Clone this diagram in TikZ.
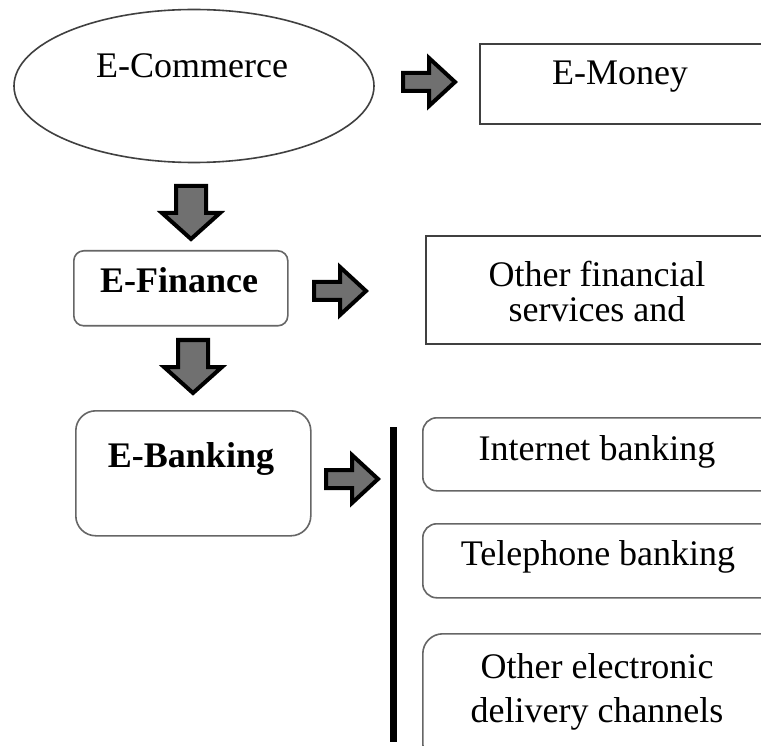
\documentclass[tikz,border=0pt]{standalone}
\usepackage{fontspec}
\setmainfont{Liberation Serif}
\usetikzlibrary{shapes.geometric}
\tikzset{
  txt/.style={font=\fontsize{36}{40}\selectfont, inner sep=0pt, anchor=base},
  btxt/.style={txt, font=\fontsize{36}{40}\selectfont\bfseries},
  sbox/.style={draw=black!75, line width=1.6pt, anchor=north west, inner sep=0pt},
  rbox/.style={draw=black!60, line width=1.6pt, anchor=north west, inner sep=0pt},
  blk/.style={fill={rgb,255:red,112;green,112;blue,112}, draw=black, line width=4pt, line join=miter},
  rarrow/.pic={\draw[blk] (-26,-9) -- (0,-9) -- (0,-24) -- (26,0) -- (0,24) -- (0,9) -- (-26,9) -- cycle;},
  darrow/.pic={\draw[blk] (-15,-27) -- (15,-27) -- (15,0) -- (29,0) -- (0,26) -- (-29,0) -- (-15,0) -- cycle;}
}
\begin{document}
\begin{tikzpicture}[x=1pt,y=-1pt]
\clip (0,0) rectangle (761,746);
\fill[white] (0,0) rectangle (761,746);
% top row
\node[ellipse, draw=black!75, line width=1.6pt, minimum width=360pt, minimum height=153pt, inner sep=0pt] (ec) at (194,86) {};
\node[txt] (ectext) at (192,78) {E-Commerce};
\node[sbox, minimum width=330pt, minimum height=80pt] (em) at (479,43) {};
\node[txt] (emtext) at (620,85) {E-Money};
\pic at (429,82) {rarrow};
% second row
\pic at (191,213) {darrow};
\node[rbox, rounded corners=10pt, minimum width=214pt, minimum height=75pt] (ef) at (73,250) {};
\node[btxt] (eftext) at (179,293) {E-Finance};
\pic at (340,291) {rarrow};
\node[sbox, minimum width=360pt, minimum height=108pt] (of) at (425,235) {};
\node[txt] (oftext1) at (597,287) {Other financial};
\node[txt] (oftext2) at (597,322) {services and};
% third row
\pic at (193,367) {darrow};
\node[rbox, rounded corners=20pt, minimum width=235pt, minimum height=125pt] (eb) at (75,410) {};
\node[btxt] (ebtext) at (191,467) {E-Banking};
\pic at (352,479) {rarrow};
\node[fill=black, minimum width=7pt, minimum height=315pt, inner sep=0pt] (bar) at (393,584.5) {};
\node[rbox, rounded corners=14pt, minimum width=380pt, minimum height=73pt] (ib) at (422,417) {};
\node[txt] (ibtext) at (597,460) {Internet banking};
\node[rbox, rounded corners=14pt, minimum width=380pt, minimum height=74pt] (tb) at (422,523) {};
\node[txt] (tbtext) at (598,565) {Telephone banking};
\node[rbox, rounded corners=20pt, minimum width=380pt, minimum height=130pt] (oe) at (422,633) {};
\node[txt] (oetext1) at (597,678) {Other electronic};
\node[txt] (oetext2) at (597,722) {delivery channels};
\end{tikzpicture}
\end{document}
